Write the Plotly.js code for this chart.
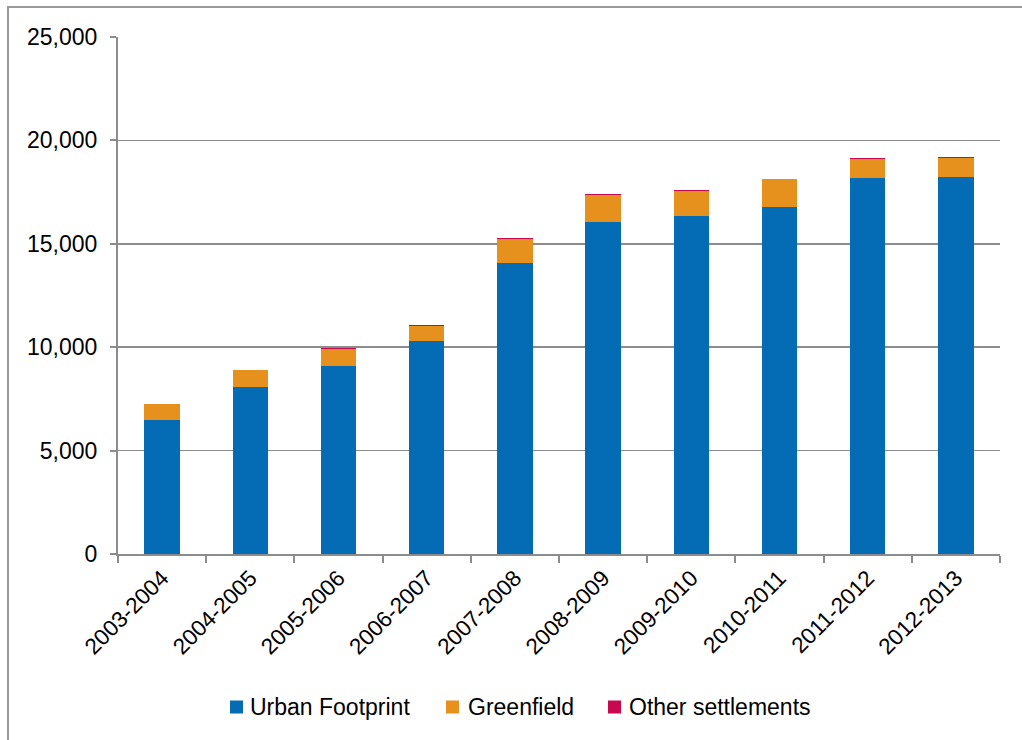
<!DOCTYPE html>
<html>
<head>
<meta charset="utf-8">
<script src="https://cdn.plot.ly/plotly-3.0.1.min.js"></script>
<style>
  body { margin: 0; padding: 0; background: #fff; overflow: hidden; }
  #wrap { position: relative; width: 1022px; height: 740px; overflow: hidden; }
  #chart { position: absolute; left: 0; top: 0; width: 1022px; height: 740px; }
  #frame { position: absolute; left: 7px; top: 6px; width: 1100px; height: 800px; border-left: 2px solid #9a9a9a; border-top: 2px solid #9a9a9a; pointer-events: none; }
</style>
</head>
<body>
<div id="wrap">
  <div id="chart"></div>
  <div id="frame"></div>
</div>
<script>
const categories = ["2003-2004", "2004-2005", "2005-2006", "2006-2007", "2007-2008",
                    "2008-2009", "2009-2010", "2010-2011", "2011-2012", "2012-2013"];
const urbanFootprint = [6500, 8060, 9110, 10280, 14070, 16040, 16360, 16800, 18200, 18210];
const greenfield = [760, 840, 800, 760, 1160, 1340, 1180, 1320, 900, 940];
const otherSettlements = [10, 10, 40, 30, 30, 40, 60, 20, 50, 40];

const seriesNames = ["Urban Footprint", "Greenfield", "Other settlements"];
const seriesColors = ["#046BB5", "#E6901E", "#C8094F"];
const seriesValues = [urbanFootprint, greenfield, otherSettlements];

const traces = seriesValues.map((vals, i) => ({
  type: "bar",
  name: seriesNames[i],
  x: categories,
  y: vals,
  marker: { color: seriesColors[i], line: { width: 0 } },
  hoverinfo: "x+y+name"
}));

// plot-area geometry (pixels) used only to place the hand-built legend
const M = { l: 118, r: 22, t: 37, b: 186 };
const W = 1022, H = 740;
const pw = W - M.l - M.r, ph = H - M.t - M.b;
const px2x = p => (p - M.l) / pw;
const py2y = p => (H - M.b - p) / ph;

const legendSquareLeft = [230, 446, 608];
const legendTextLeft = [248, 466, 627];
const legendCenterY = 707;
const sq = 13;

const shapes = seriesNames.map((n, i) => ({
  type: "rect", xref: "paper", yref: "paper",
  x0: px2x(legendSquareLeft[i]), x1: px2x(legendSquareLeft[i] + sq),
  y0: py2y(legendCenterY + sq / 2), y1: py2y(legendCenterY - sq / 2),
  fillcolor: seriesColors[i], line: { width: 0 }
}));

const annotations = seriesNames.map((n, i) => ({
  text: n, xref: "paper", yref: "paper",
  x: px2x(legendTextLeft[i]), xanchor: "left",
  y: py2y(legendCenterY), yanchor: "middle",
  showarrow: false, font: { size: 23, color: "#000" }
}));

const layout = {
  width: W,
  height: H,
  barmode: "stack",
  bargap: 0.6,
  paper_bgcolor: "rgba(0,0,0,0)",
  plot_bgcolor: "#fff",
  margin: M,
  font: { family: "Liberation Sans, Arial, sans-serif", size: 23, color: "#000" },
  xaxis: {
    type: "category",
    tickangle: -45,
    showline: true,
    linecolor: "#8c8c8c",
    linewidth: 2,
    ticks: "outside",
    tickson: "boundaries",
    ticklen: 7,
    tickcolor: "#8c8c8c",
    tickwidth: 2,
    showgrid: false,
    automargin: false,
    tickfont: { size: 22.5, color: "#000" }
  },
  yaxis: {
    range: [0, 25000],
    dtick: 5000,
    tickformat: ",",
    showline: true,
    linecolor: "#8c8c8c",
    linewidth: 2,
    ticks: "outside",
    ticklen: 6,
    tickcolor: "#8c8c8c",
    tickwidth: 2,
    ticklabelstandoff: 8,
    showgrid: true,
    gridcolor: "#8c8c8c",
    gridwidth: 1.5,
    zeroline: false,
    automargin: false,
    tickfont: { size: 23, color: "#000" }
  },
  showlegend: false,
  shapes: shapes,
  annotations: annotations
};

Plotly.newPlot("chart", traces, layout, { displayModeBar: false, staticPlot: true });
</script>
</body>
</html>
